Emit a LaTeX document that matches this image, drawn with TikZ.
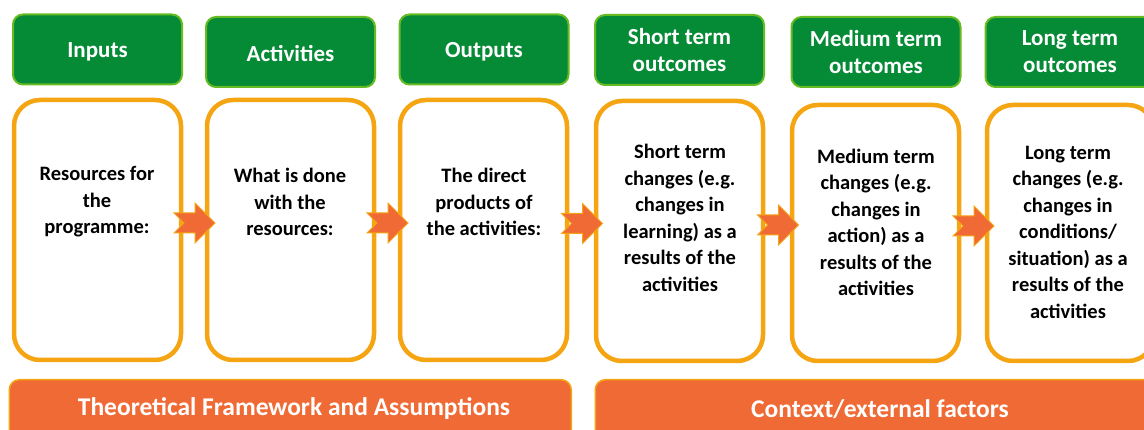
\documentclass[tikz,border=0pt]{standalone}
\usepackage{fontspec}
\setmainfont{Carlito}
\usetikzlibrary{calc}
\definecolor{hdrgreen}{HTML}{058A36}
\definecolor{hdredge}{HTML}{66BB22}
\definecolor{boxorange}{HTML}{F5A412}
\definecolor{arrorange}{HTML}{F06A35}
\newcommand{\flowarrow}[2]{%
  \path ($(#1.east)!0.5!(#2.west)+(0,-7)$) coordinate (m#1);
  \draw[flow] (m#1) ++(-20,-10) -- ++(21,0) -- ++(0,-10) -- ++(20,20) -- ++(-20,20) -- ++(0,-10) -- ++(-21,0) -- ++(10,-10) -- cycle;
}
\begin{document}
\begin{tikzpicture}[x=1pt,y=-1pt,
  hdr/.style={draw=hdredge, line width=2pt, fill=hdrgreen, rounded corners=10pt, minimum width=169pt, minimum height=70pt, text=white, font=\fontsize{23}{27}\selectfont\bfseries, align=center, inner sep=0pt},
  hdrtext/.style={text=white, font=\fontsize{23}{27}\selectfont\bfseries, align=center, inner sep=0pt},
  stage/.style={draw=boxorange, line width=4.5pt, fill=white, rounded corners=26pt, minimum width=167pt, minimum height=260pt, inner sep=0pt},
  body/.style={font=\fontsize{20.5}{26.5}\selectfont\bfseries, align=center, text=black, inner sep=0pt},
  bar/.style={draw=boxorange, line width=1.5pt, fill=arrorange, rounded corners=10pt, inner sep=0pt, anchor=north west, minimum height=80pt},
  bartext/.style={text=white, font=\fontsize{25.5}{28}\selectfont\bfseries, inner sep=0pt},
  flow/.style={fill=arrorange, draw=boxorange, line width=1pt, line join=miter}
]
\useasboundingbox (0,0) rectangle (1144,430);
\clip (0,0) rectangle (1144,430);

% headers
\node[hdr] (h1) at (97.5,49.5) {};
\node[hdrtext] (ht1) at (97.5,52) {Inputs};
\node[hdr] (h2) at (290.5,52) {};
\node[hdrtext] (ht2) at (290.5,54) {Activities};
\node[hdr] (h3) at (484,49.5) {};
\node[hdrtext] (ht3) at (484,52) {Outputs};
\node[hdr] (h4) at (679.5,50) {Short term\\outcomes};
\node[hdr] (h5) at (876,52) {Medium term\\outcomes};
\node[hdr] (h6) at (1070,52) {Long term\\outcomes};

% stage boxes
\node[stage] (b1) at (97.5,230) {};
\node[stage] (b2) at (290.5,230) {};
\node[stage] (b3) at (483.5,230) {};
\node[stage] (b4) at (679.5,231) {};
\node[stage, minimum height=256pt] (b5) at (875.5,233) {};
\node[stage, minimum height=256pt] (b6) at (1070.5,233) {};

% texts
\node[body] (t1) at (97,202) {Resources for\\the\\programme:};
\node[body] (t2) at (290,202) {What is done\\with the\\resources:};
\node[body] (t3) at (484,202) {The direct\\products of\\the activities:};
\node[body] (t4) at (680,218) {Short term\\changes (e.g.\\changes in\\learning) as a\\results of the\\activities};
\node[body] (t5) at (876,222.5) {Medium term\\changes (e.g.\\changes in\\action) as a\\results of the\\activities};
\node[body] (t6) at (1068,232) {Long term\\changes (e.g.\\changes in\\conditions/\\situation) as a\\results of the\\activities};

% arrows
\flowarrow{b1}{b2}
\flowarrow{b2}{b3}
\flowarrow{b3}{b4}
\flowarrow{b4}{b5}
\flowarrow{b5}{b6}

% bottom bars
\node[bar, minimum width=562pt] (f1) at (8.5,379) {};
\node[bar, minimum width=570pt] (f2) at (594.5,379) {};
\node[bartext] (l1) at (294,409) {Theoretical Framework and Assumptions};
\node[bartext] (l2) at (880,409) {Context/external factors};
\end{tikzpicture}
\end{document}
